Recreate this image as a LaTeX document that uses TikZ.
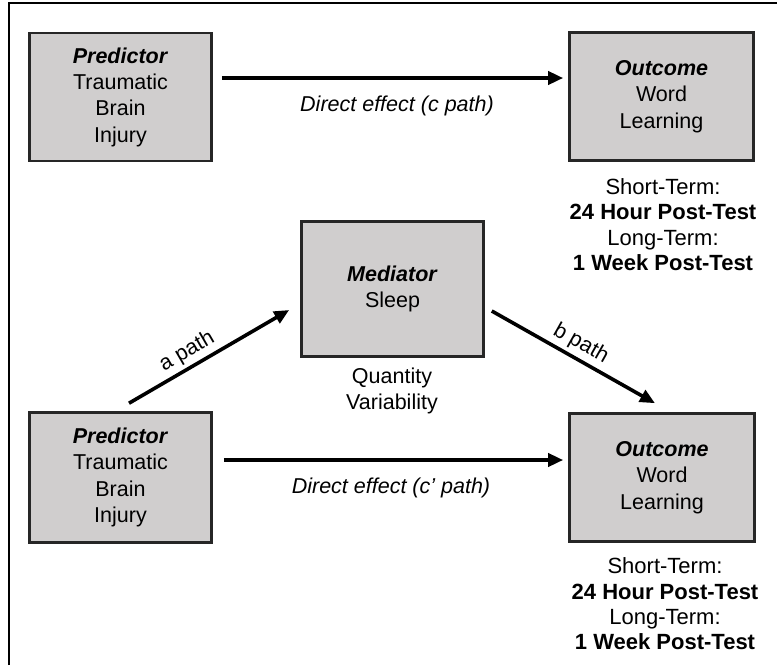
\documentclass[tikz,border=0pt]{standalone}
\usepackage{fontspec}
\setmainfont{Liberation Sans}
\usetikzlibrary{arrows.meta,calc}
\definecolor{boxgray}{RGB}{208,206,206}
\begin{document}
\begin{tikzpicture}[x=1pt,y=-1pt,
  varbox/.style={draw=black!85, line width=2.6pt, fill=boxgray, align=center,
    font=\fontsize{21.5}{26.3}\selectfont, inner sep=0pt},
  patharrow/.style={line width=3.6pt, -{Triangle[length=15pt,width=13pt]}},
  lbl/.style={font=\fontsize{21.5}{25.5}\selectfont, align=center},
  testlbl/.style={font=\fontsize{22}{25.3}\selectfont, align=center},
]
\useasboundingbox (0,0) rectangle (777,665);
% frame
\draw[line width=1.4pt] (9,665) -- (9,3) -- (777,3);

% total effect model
\node[varbox, minimum width=182pt, minimum height=128pt] (pTop) at (120.5,97)
  {\textbf{\textit{Predictor}}\\Traumatic\\Brain\\Injury};
\node[varbox, minimum width=184pt, minimum height=128pt] (oTop) at (661.5,96.5)
  {\textbf{\textit{Outcome}}\\Word\\Learning};
\node[testlbl] (tTop) at (663,224.5)
  {Short-Term:\\\textbf{24 Hour Post-Test}\\Long-Term:\\\textbf{1 Week Post-Test}};
\draw[patharrow] ($(pTop.east)+(9,-19)$) -- ($(oTop.west)+(-5,-18.5)$);
\node[lbl, font=\fontsize{21.5}{25.5}\selectfont\itshape] (cLbl) at (397,106) {Direct effect (c path)};

% mediation model
\node[varbox, minimum width=182pt, minimum height=135pt] (med) at (392.5,289)
  {\textbf{\textit{Mediator}}\\Sleep};
\node[lbl] (medTxt) at (392,391) {Quantity\\Variability};
\node[varbox, minimum width=182pt, minimum height=130pt] (pBot) at (120.5,477.5)
  {\textbf{\textit{Predictor}}\\Traumatic\\Brain\\Injury};
\node[varbox, minimum width=185pt, minimum height=128pt] (oBot) at (662,477.5)
  {\textbf{\textit{Outcome}}\\Word\\Learning};
\node[testlbl] (tBot) at (665,604)
  {Short-Term:\\\textbf{24 Hour Post-Test}\\Long-Term:\\\textbf{1 Week Post-Test}};

\draw[patharrow] ($(pBot.north)+(8.5,-8)$) -- node[lbl, pos=0.41, above, sloped] {a path} ($(med.west)+(-11,21)$);
\draw[patharrow] ($(med.east)+(7,22)$) -- node[lbl, pos=0.5, above, sloped] {b path} ($(oBot.north)+(-7,-9)$);
\draw[patharrow] ($(pBot.east)+(11,-17.5)$) -- ($(oBot.west)+(-5,-17.5)$);
\node[lbl, font=\fontsize{21.5}{25.5}\selectfont\itshape] (cpLbl) at (391,488) {Direct effect (c’ path)};
\end{tikzpicture}
\end{document}
